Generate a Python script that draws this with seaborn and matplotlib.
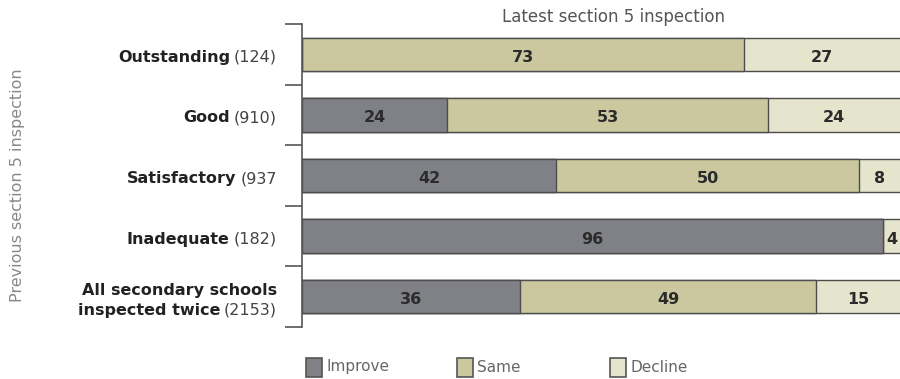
import matplotlib
matplotlib.use("Agg")
import matplotlib.pyplot as plt
import seaborn as sns
import pandas as pd
import numpy as np
from matplotlib.patches import Rectangle
from matplotlib.transforms import blended_transform_factory

# ---- data ----
categories = ["Outstanding", "Good", "Satisfactory", "Inadequate", "All secondary schools"]
label_bold_last = ["Outstanding", "Good", "Satisfactory", "Inadequate", "inspected twice"]
label_counts = ["(124)", "(910)", "(937", "(182)", "(2153)"]
improve = [0, 24, 42, 96, 36]
same = [73, 53, 50, 0, 49]
decline = [27, 24, 8, 4, 15]
series_names = ["Improve", "Same", "Decline"]
series_colors = ["#808186", "#cbc89f", "#e5e4cd"]
title = "Latest section 5 inspection"
ylabel = "Previous section 5 inspection"

sns.set_theme(style="white")
plt.rcParams["font.family"] = ["DejaVu Sans"]

W, H = 900, 379
fig = plt.figure(figsize=(W / 100, H / 100), dpi=100)
ax = fig.add_axes([302 / W, 1 - 327 / H, 1 - 302 / W, 303 / H])

df = pd.DataFrame({"cat": categories, "improve": improve, "same": same, "decline": decline})
df["c1"] = df["improve"]
df["c2"] = df["improve"] + df["same"]
df["c3"] = df["c2"] + df["decline"]

edge = "#4d4d4d"
for col, color in zip(["c3", "c2", "c1"], series_colors[::-1]):
    sns.barplot(data=df, x=col, y="cat", order=categories, orient="h", color=color,
                width=0.55, edgecolor=edge, linewidth=1.0, saturation=1, ax=ax)

xmax = 98.8
ax.set_xlim(0, xmax)
ax.set_ylim(4.5, -0.5)

# value labels
for i, row in df.iterrows():
    starts = [0, row["c1"], row["c2"]]
    vals = [row["improve"], row["same"], row["decline"]]
    for s, v in zip(starts, vals):
        if v <= 0:
            continue
        e = min(s + v, xmax)
        ax.text((s + e) / 2, i + 0.05, f"{v}", ha="center", va="center",
                fontsize=11.5, fontweight="bold", color="#2b2b2b")

# axes styling
for sp in ["top", "right", "bottom"]:
    ax.spines[sp].set_visible(False)
ax.spines["left"].set_color("#555555")
ax.spines["left"].set_linewidth(1.2)
ax.set_xticks([])
ax.set_yticks(np.arange(-0.5, 5, 1))
ax.set_yticklabels([])
ax.tick_params(axis="y", left=True, length=12, width=1.2, color="#555555", direction="out")
ax.set_xlabel("")
ax.set_ylabel("")

# category labels: bold name + normal count
fig.canvas.draw()
renderer = fig.canvas.get_renderer()
tr = blended_transform_factory(fig.transFigure, ax.transData)
xr = 277 / W
lab_fs = 11.5
for i in range(len(categories)):
    yline = i + 0.05 if i < 4 else i + 0.22
    t = fig.text(xr, yline, label_counts[i], transform=tr, ha="right", va="center",
                 fontsize=lab_fs, color="#444444")
    bb = t.get_window_extent(renderer)
    xb = (bb.x0 - 4) / W
    fig.text(xb, yline, label_bold_last[i], transform=tr, ha="right", va="center",
             fontsize=lab_fs, fontweight="bold", color="#222222")
    if i == 4:
        fig.text(xr, i - 0.1, categories[i], transform=tr, ha="right", va="center",
                 fontsize=lab_fs, fontweight="bold", color="#222222")

# title and y label
fig.text(614 / W, 1 - 17 / H, title, ha="center", va="center", fontsize=12, color="#555555")
fig.text(18 / W, 1 - 185 / H, ylabel, ha="center", va="center", rotation=90,
         fontsize=11.5, color="#888888")

# legend
leg_x = [306, 457, 610]
for x, name, color in zip(leg_x, series_names, series_colors):
    fig.add_artist(Rectangle((x / W, 1 - 377 / H), 16 / W, 19 / H, transform=fig.transFigure,
                             facecolor=color, edgecolor="#555555", linewidth=1.2))
    fig.text((x + 20) / W, 1 - 367 / H, name, ha="left", va="center", fontsize=11, color="#666666")

fig.savefig("out.png", dpi=100)
